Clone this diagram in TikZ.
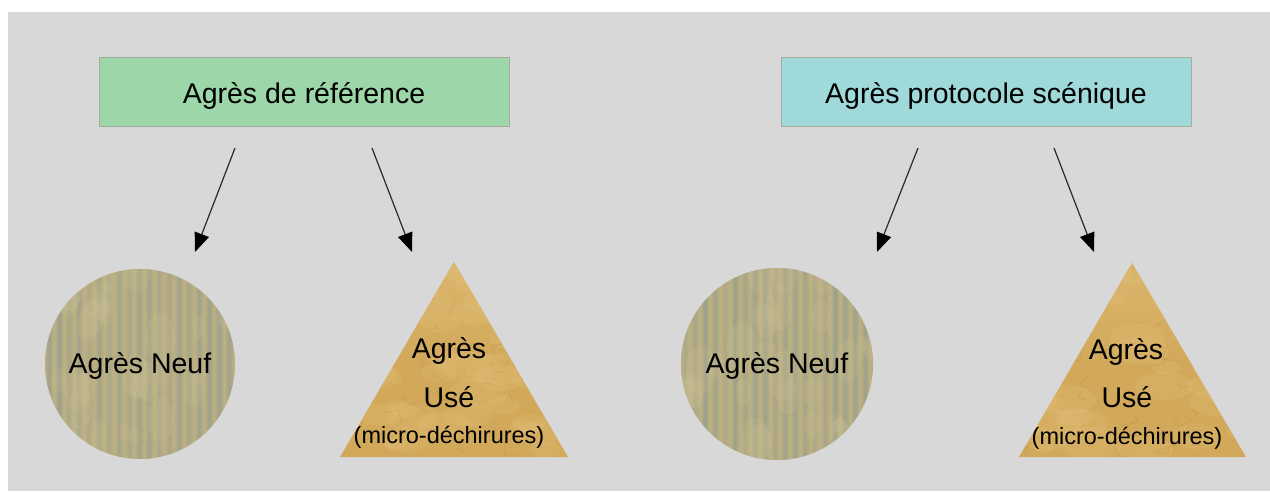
\documentclass[tikz,border=0pt]{standalone}
\usepackage{fontspec}
\setmainfont{Liberation Sans}
\usetikzlibrary{arrows.meta}
\definecolor{bg}{HTML}{D8D8D8}
\definecolor{greenbox}{HTML}{9DD6A8}
\definecolor{tealbox}{HTML}{A0D9DA}
\definecolor{boxline}{HTML}{A2ABA4}
\definecolor{arrowc}{HTML}{2A2A2A}
\definecolor{discbase}{HTML}{BFB182}
\definecolor{stripe}{HTML}{8E9B8F}
\definecolor{disclight}{HTML}{CFC295}
\definecolor{gold}{HTML}{D2A95B}
\definecolor{goldlight}{HTML}{E3C27D}
\definecolor{golddark}{HTML}{A97A31}
\tikzset{
  bigfont/.style={font=\fontsize{28.5pt}{34pt}\selectfont},
  smallfont/.style={font=\fontsize{23.5pt}{28pt}\selectfont},
  topbox/.style={draw=boxline, line width=0.8pt, minimum width=410pt, minimum height=69pt,
    inner sep=0pt, text height=23pt, text depth=0pt, bigfont},
  disc/.style={circle, inner sep=0pt, text height=19pt, text depth=0pt, bigfont},
  conn/.style={draw=arrowc, line width=1.2pt, -{Triangle[length=19pt,width=15pt,color=black,fill=black]}},
  biglbl/.style={anchor=base, inner sep=0pt, bigfont},
  smalllbl/.style={anchor=base, inner sep=0pt, smallfont},
}
\begin{document}
\begin{tikzpicture}[x=1pt,y=-1pt]
  \useasboundingbox (0,0) rectangle (1270,491);
  \fill[white] (0,0) rectangle (1270,491);
  \fill[bg] (8,12) rectangle (1270,491);

  % top boxes
  \node[topbox, fill=greenbox] (ref) at (304,91.5) {Agrès de référence};
  \node[topbox, fill=tealbox] (proto) at (986,91.5) {Agrès protocole scénique};

  % disc textures
  \foreach \cx/\r/\sd in {140/95/11, 777/96/23}{
    \begin{scope}
      \clip (\cx,364) circle[radius=\r];
      \fill[discbase] (\cx-\r-2,264) rectangle (\cx+\r+2,464);
      \pgfmathsetseed{\sd}
      \foreach \i in {0,...,19}{
        \pgfmathsetmacro\op{0.35+0.4*rnd}
        \shade[left color=discbase, right color=discbase, middle color=stripe, opacity=\op]
          (\cx-\r+\i*10-1, 264) rectangle ++(10, 202);
      }
      \foreach \k in {1,...,30}{
        \pgfmathsetmacro\px{\cx-\r+rnd*2*\r}
        \pgfmathsetmacro\py{269+rnd*190}
        \pgfmathsetmacro\rr{8+rnd*18}
        \fill[disclight, opacity=0.2] (\px,\py) ellipse[x radius=\rr*0.6, y radius=\rr];
      }
    \end{scope}
  }
  \node[disc, minimum size=190pt] (neuf1) at (140,364) {Agrès Neuf};
  \node[disc, minimum size=192pt] (neuf2) at (777,364) {Agrès Neuf};

  % triangles
  \coordinate (t1a) at (454,262);
  \coordinate (t1l) at (340,457);
  \coordinate (t1r) at (568,457);
  \coordinate (t2a) at (1132,263);
  \coordinate (t2l) at (1019,457);
  \coordinate (t2r) at (1246,457);
  \foreach \t/\sd in {1/5, 2/17}{
    \begin{scope}
      \clip (t\t a) -- (t\t r) -- (t\t l) -- cycle;
      \begin{scope}[shift={(t\t l)}]
        \fill[gold] (-2,2) rectangle (232,-200);
        \shade[top color=goldlight, bottom color=gold, opacity=0.55] (-2,-200) rectangle (232,-90);
        \pgfmathsetseed{\sd}
        \foreach \k in {1,...,40}{
          \pgfmathsetmacro\px{rnd*230}
          \pgfmathsetmacro\py{-rnd*200}
          \pgfmathsetmacro\rr{10+rnd*22}
          \fill[goldlight, opacity=0.22] (\px,\py) ellipse[x radius=\rr, y radius=\rr*0.5];
        }
        \foreach \k in {1,...,40}{
          \pgfmathsetmacro\px{rnd*230}
          \pgfmathsetmacro\py{-rnd*200}
          \pgfmathsetmacro\dx{rnd*50-25}
          \pgfmathsetmacro\dy{rnd*30-15}
          \draw[golddark, opacity=0.2, line width=0.9pt, line join=round]
            (\px,\py) -- ++(\dx,\dy) -- ++(\dy,-\dx*0.4);
        }
      \end{scope}
    \end{scope}
  }

  \node[biglbl] (use1a) at (449,358) {Agrès};
  \node[biglbl] (use1b) at (449,407) {Usé};
  \node[smalllbl] (use1c) at (449,443) {(micro-déchirures)};
  \node[biglbl] (use2a) at (1126,359) {Agrès};
  \node[biglbl] (use2b) at (1127,407) {Usé};
  \node[smalllbl] (use2c) at (1127,444) {(micro-déchirures)};

  % arrows
  \coordinate (a1s) at (235,148);
  \coordinate (a1e) at (195,252);
  \coordinate (a2s) at (372,148);
  \coordinate (a2e) at (412,252);
  \coordinate (a3s) at (918,148);
  \coordinate (a3e) at (877,252);
  \coordinate (a4s) at (1054,148);
  \coordinate (a4e) at (1094,252);
  \draw[conn] (a1s) -- (a1e);
  \draw[conn] (a2s) -- (a2e);
  \draw[conn] (a3s) -- (a3e);
  \draw[conn] (a4s) -- (a4e);
\end{tikzpicture}
\end{document}
